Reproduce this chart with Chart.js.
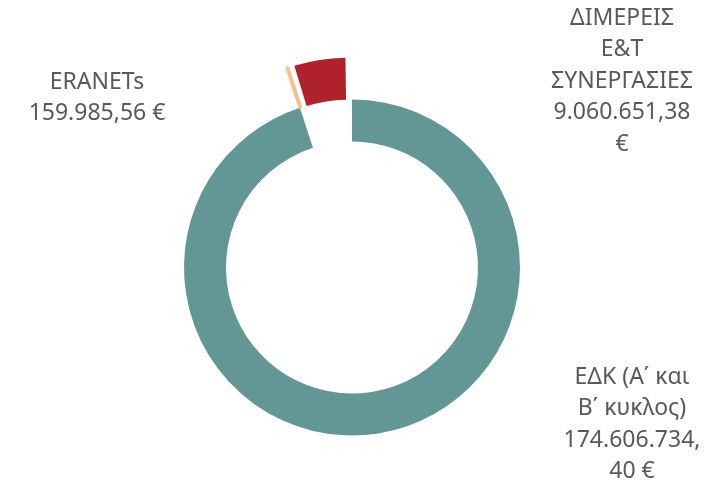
<!DOCTYPE html>
<html>
<head>
<meta charset="utf-8">
<script src="https://cdn.jsdelivr.net/npm/chart.js@4"></script>
<style>
  html, body { margin: 0; padding: 0; background: #fff; }
  #wrap { width: 722px; height: 483px; }
</style>
</head>
<body>
<div id="wrap"><canvas id="chart"></canvas></div>
<script>
// data, clockwise from 12 o'clock
const categories = ['ΕΔΚ (Α΄ και Β΄ κυκλος)', 'ERANETs', 'ΔΙΜΕΡΕΙΣ Ε&Τ ΣΥΝΕΡΓΑΣΙΕΣ'];
const amounts = [174606734.40, 159985.56, 9060651.38];
const colors = ['#639795', '#f9bf90', '#b0222b'];
// chart.js moves a slice by roughly offset/4 * (1 + fix), so these give ~42px
const explode = [0, 84, 99];

// data label text, one entry per line (as wrapped in the picture)
const labelLines = [
    ['ΕΔΚ (Α΄ και', 'Β΄ κυκλος)', '174.606.734,', '40 €'],
    ['ERANETs', '159.985,56 €'],
    ['ΔΙΜΕΡΕΙΣ', 'Ε&Τ', 'ΣΥΝΕΡΓΑΣΙΕΣ', '9.060.651,38', '€']
];
// label anchor (centre x, first line y)
const labelPos = [[632, 377], [97, 82], [622, 18]];

const labelPlugin = {
    id: 'sliceLabels',
    afterDraw(chart) {
        const ctx = chart.ctx;
        ctx.save();
        ctx.font = '23px "Noto Sans", sans-serif';
        ctx.fillStyle = '#595959';
        ctx.textAlign = 'center';
        ctx.textBaseline = 'middle';
        labelLines.forEach((lines, i) => {
            const [x, y] = labelPos[i];
            lines.forEach((t, j) => ctx.fillText(t, x, y + j * 31.5));
        });
        ctx.restore();
    }
};

new Chart(document.getElementById('chart').getContext('2d'), {
    type: 'doughnut',
    data: {
        labels: categories,
        datasets: [{
            data: amounts,
            backgroundColor: colors,
            borderColor: colors,
            borderWidth: [0, 4, 0],
            offset: explode,
            radius: 168,
        }]
    },
    options: {
        responsive: true,
        maintainAspectRatio: false,
        animation: false,
        cutout: '75%',
        layout: {
            padding: { top: 52, right: 18, left: 0, bottom: 0 }
        },
        plugins: {
            legend: { display: false },
            tooltip: { enabled: false }
        }
    },
    plugins: [labelPlugin]
});
</script>
</body>
</html>
